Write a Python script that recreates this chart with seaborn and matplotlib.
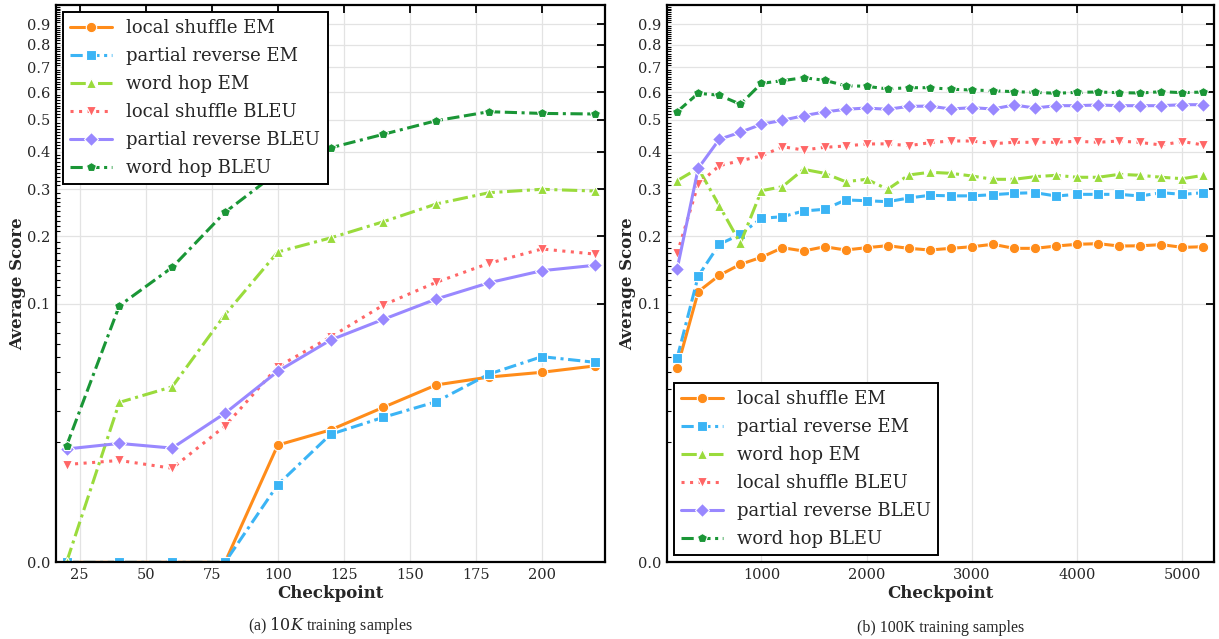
import numpy as np
import pandas as pd
import matplotlib
matplotlib.use("Agg")
import matplotlib.pyplot as plt
from matplotlib.ticker import FixedLocator, MultipleLocator
import seaborn as sns

# --- Datos ---
SERIES = ["local shuffle EM", "partial reverse EM", "word hop EM",
          "local shuffle BLEU", "partial reverse BLEU", "word hop BLEU"]

CKPT_10K = [20, 40, 60, 80, 100, 120, 140, 160, 180, 200, 220]
ls_em_10k = [0, 0, 0, 0, 0.0093, 0.0134, 0.0215, 0.0322, 0.0367, 0.0396, 0.0437]
pr_em_10k = [0, 0, 0, 0, 0.0027, 0.0121, 0.0176, 0.0239, 0.0385, 0.0502, 0.0462]
wh_em_10k = [0, 0.0236, 0.0312, 0.0876, 0.1724, 0.197, 0.228, 0.2655, 0.2914, 0.2995, 0.2954]
ls_bleu_10k = [0.0054, 0.0061, 0.0048, 0.0146, 0.0432, 0.066, 0.0983, 0.1267, 0.1543, 0.1775, 0.169]
pr_bleu_10k = [0.0084, 0.0097, 0.0086, 0.0191, 0.0402, 0.0634, 0.0828, 0.1053, 0.1261, 0.1431, 0.1512]
wh_bleu_10k = [0.0091, 0.0975, 0.148, 0.2474, 0.343, 0.411, 0.4525, 0.497, 0.528, 0.522, 0.520]

CKPT_100K = [200, 400, 600, 800, 1000, 1200, 1400, 1600, 1800, 2000, 2200, 2400, 2600,
             2800, 3000, 3200, 3400, 3600, 3800, 4000, 4200, 4400, 4600, 4800, 5000, 5200]
ls_em_100k = [0.0425, 0.1144, 0.1364, 0.1527, 0.1638, 0.1797, 0.1741, 0.1814, 0.1758, 0.1797,
              0.1832, 0.1786, 0.1758, 0.1786, 0.1814, 0.1856, 0.1786, 0.1786, 0.1826, 0.1856,
              0.1867, 0.1826, 0.183, 0.185, 0.1803, 0.1814]
pr_em_100k = [0.0494, 0.1354, 0.1856, 0.2036, 0.2349, 0.2382, 0.2502, 0.2539, 0.2745, 0.2729,
              0.2706, 0.279, 0.2853, 0.284, 0.284, 0.2867, 0.29, 0.2914, 0.2836, 0.2875,
              0.2875, 0.2875, 0.2836, 0.2914, 0.2875, 0.2914]
wh_em_100k = [0.3207, 0.353, 0.2617, 0.1873, 0.2961, 0.3058, 0.3503, 0.3397, 0.3182, 0.3242,
              0.2995, 0.3353, 0.3424, 0.3397, 0.3327, 0.3242, 0.3242, 0.331, 0.3345, 0.3294,
              0.3294, 0.337, 0.3345, 0.3294, 0.3258, 0.3345]
ls_bleu_100k = [0.1703, 0.3125, 0.36, 0.3738, 0.387, 0.4143, 0.4044, 0.4125, 0.4163, 0.4224,
                0.423, 0.4173, 0.4264, 0.4316, 0.4316, 0.4233, 0.4276, 0.4276, 0.4276, 0.4307,
                0.4276, 0.4316, 0.427, 0.4194, 0.430, 0.4194]
pr_bleu_100k = [0.146, 0.353, 0.4368, 0.4589, 0.485, 0.4983, 0.514, 0.527, 0.5365, 0.541,
                0.5365, 0.547, 0.548, 0.5376, 0.5423, 0.5376, 0.552, 0.541, 0.5495, 0.5495,
                0.552, 0.5495, 0.5495, 0.5495, 0.553, 0.553]
wh_bleu_100k = [0.528, 0.5954, 0.588, 0.5545, 0.634, 0.6447, 0.6568, 0.6463, 0.6248, 0.6224,
                0.612, 0.617, 0.617, 0.611, 0.608, 0.6053, 0.6015, 0.599, 0.5954, 0.599,
                0.6003, 0.5977, 0.5965, 0.6015, 0.5977, 0.6003]

Y_TICKS = [0.0, 0.1, 0.2, 0.3, 0.4, 0.5, 0.6, 0.7, 0.8, 0.9]
X_TICKS_10K = [25, 50, 75, 100, 125, 150, 175, 200]
X_TICKS_100K = [1000, 2000, 3000, 4000, 5000]
# --- Fin Datos ---

# --- Estilo ---
PALETTE = {
    "local shuffle EM": "#ff8c1a",
    "partial reverse EM": "#3bb4f5",
    "word hop EM": "#9adb3c",
    "local shuffle BLEU": "#ff6666",
    "partial reverse BLEU": "#9988ff",
    "word hop BLEU": "#1a9636",
}
MARKERS = {
    "local shuffle EM": "o",
    "partial reverse EM": "s",
    "word hop EM": "^",
    "local shuffle BLEU": "v",
    "partial reverse BLEU": "D",
    "word hop BLEU": "p",
}
DASHES = {
    "local shuffle EM": "",
    "partial reverse EM": (4, 1.5, 4, 1.5, 1, 1.5),
    "word hop EM": (5, 1.5, 1, 1.5),
    "local shuffle BLEU": (1, 1.8),
    "partial reverse BLEU": "",
    "word hop BLEU": (4, 1.5, 4, 1.5, 1, 1.5),
}

sns.set_theme(style="whitegrid")
plt.rcParams["font.family"] = ["DejaVu Serif"]
plt.rcParams["mathtext.fontset"] = "dejavuserif"


def long_form(ckpts, cols):
    frames = []
    for name, vals in zip(SERIES, cols):
        frames.append(pd.DataFrame({"Checkpoint": ckpts, "Score": vals, "Series": name}))
    return pd.concat(frames, ignore_index=True)


def draw_panel(ax, df, xticks, legend_loc):
    sns.lineplot(data=df, x="Checkpoint", y="Score", hue="Series", style="Series",
                 hue_order=SERIES, style_order=SERIES, palette=PALETTE,
                 markers=MARKERS, dashes=DASHES, linewidth=2.2, markersize=7.5,
                 markeredgecolor="white", markeredgewidth=0.8, ax=ax)
    # escala raíz cúbica en y
    ax.set_yscale("function", functions=(np.cbrt, lambda v: np.power(v, 3)))
    ax.set_ylim(0, 1.0)
    ax.yaxis.set_major_locator(FixedLocator(Y_TICKS))
    ax.yaxis.set_minor_locator(MultipleLocator(0.01))
    ax.set_yticklabels([f"{t:.1f}" for t in Y_TICKS])
    ax.set_xticks(xticks)
    ax.margins(x=0.02)
    ax.set_facecolor("white")
    ax.grid(True, which="major", color="#e3e3e3", linewidth=0.9)
    ax.grid(False, which="minor")
    for sp in ax.spines.values():
        sp.set_color("black")
        sp.set_linewidth(1.6)
    ax.tick_params(which="major", direction="in", length=6, width=1.3,
                   top=True, right=True, labelsize=10.5, color="black", pad=4)
    ax.tick_params(axis="y", which="minor", direction="in", length=3, width=0.8,
                   left=True, right=False, color="black")
    ax.set_xlabel("Checkpoint", fontsize=12, fontweight="bold", labelpad=2)
    ax.set_ylabel("Average Score", fontsize=12, fontweight="bold", labelpad=1)
    leg = ax.legend(loc=legend_loc, fontsize=13, frameon=True, fancybox=False,
                    framealpha=1.0, edgecolor="black", borderaxespad=0.4,
                    handlelength=2.3, labelspacing=0.55)
    leg.get_frame().set_linewidth(1.4)
    leg.set_title(None)


fig = plt.figure(figsize=(12.19, 6.39), dpi=100)
ax1 = fig.add_axes([0.0459, 0.120, 0.4506, 0.8725])
ax2 = fig.add_axes([0.5469, 0.120, 0.449, 0.8725])

df_10k = long_form(CKPT_10K, [ls_em_10k, pr_em_10k, wh_em_10k, ls_bleu_10k, pr_bleu_10k, wh_bleu_10k])
df_100k = long_form(CKPT_100K, [ls_em_100k, pr_em_100k, wh_em_100k, ls_bleu_100k, pr_bleu_100k, wh_bleu_100k])

draw_panel(ax1, df_10k, X_TICKS_10K, "upper left")
draw_panel(ax2, df_100k, X_TICKS_100K, "lower left")

fig.text(0.2712, 0.005, r"(a) $10K$ training samples", ha="center", va="bottom",
         fontsize=11.5, family=["Liberation Serif", "DejaVu Serif"])
fig.text(0.7714, 0.005, "(b) 100K training samples", ha="center", va="bottom",
         fontsize=11.5, family=["Liberation Serif", "DejaVu Serif"])

fig.savefig("out.png", dpi=100)
